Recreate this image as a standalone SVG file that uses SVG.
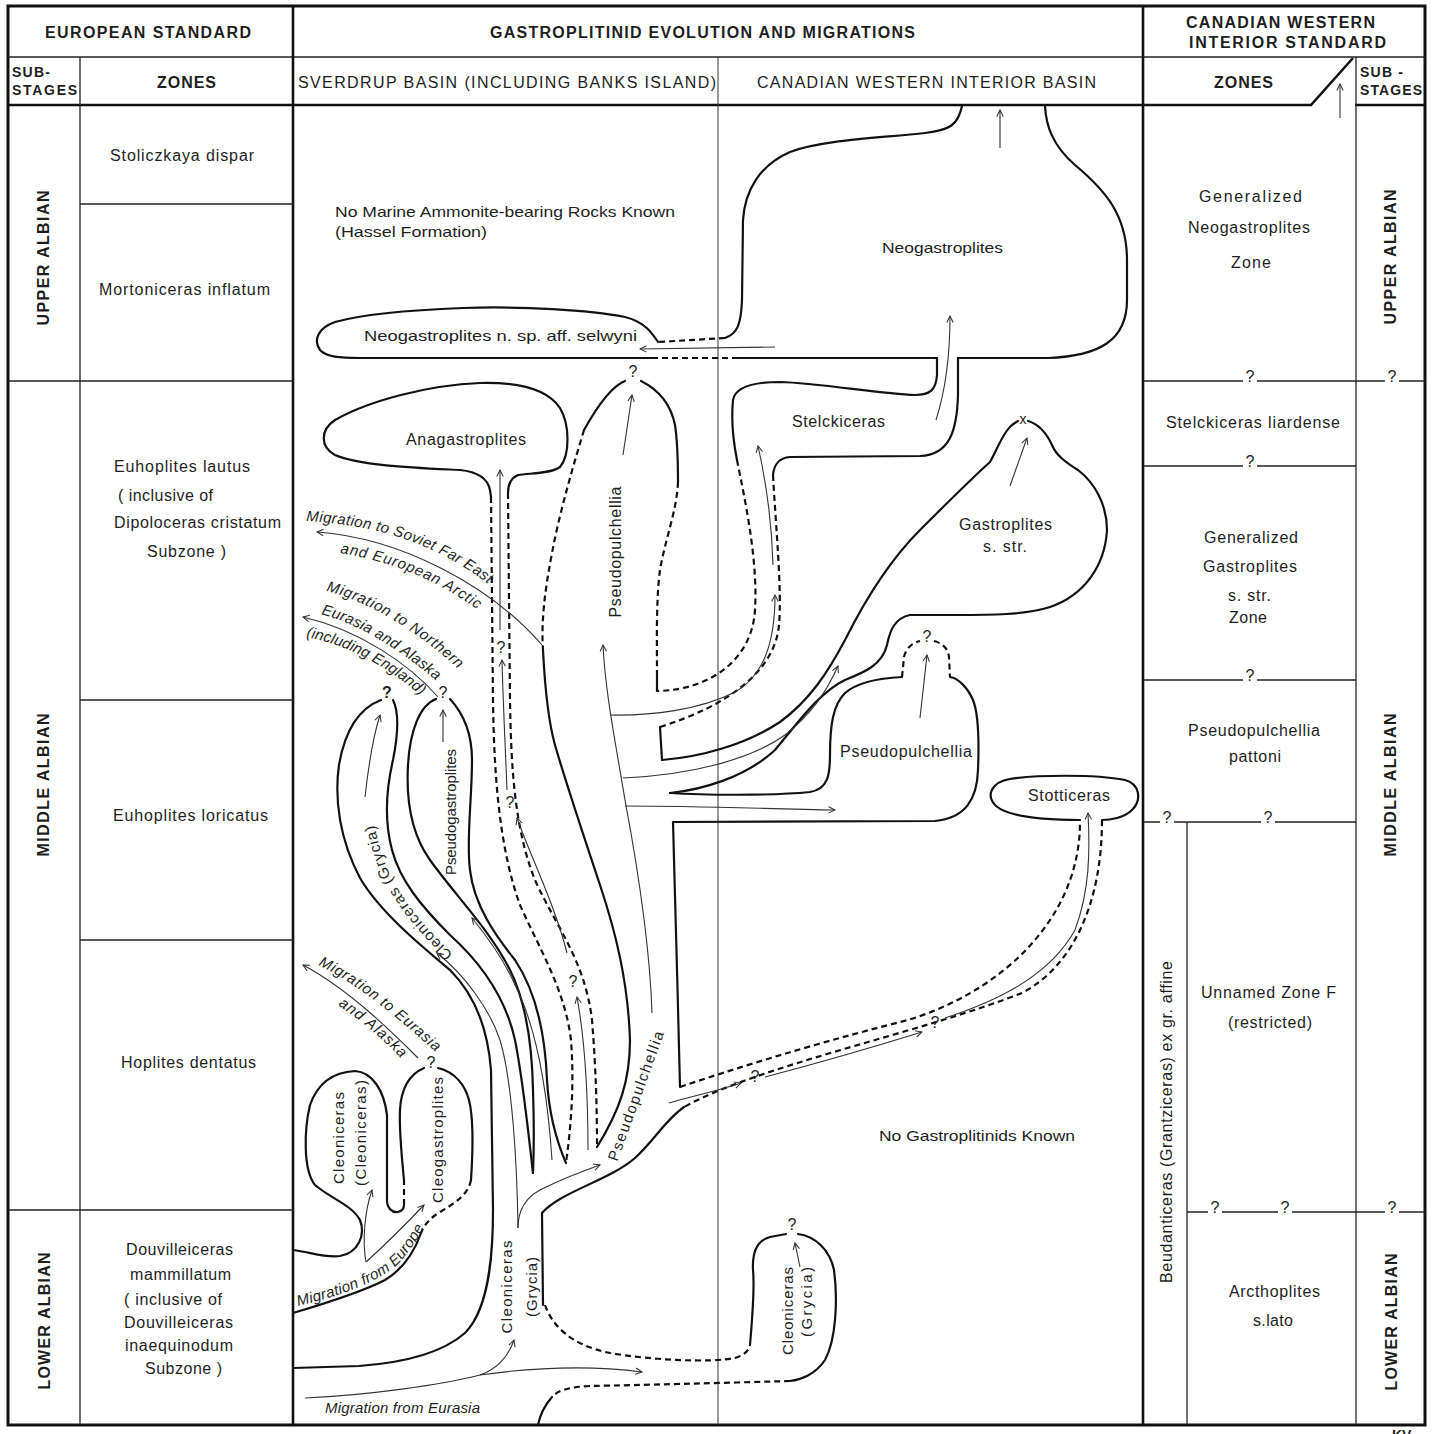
<svg xmlns="http://www.w3.org/2000/svg" width="1435" height="1434" viewBox="0 0 1435 1434">
<style>
.t{font-family:"Liberation Sans",Arial,Helvetica,sans-serif;font-size:16px;fill:#1e1e1e}
.b{font-weight:bold}
.i{font-style:italic;font-size:15px}
.m{text-anchor:middle}
.s14{font-size:14px}
.s15{font-size:15px}
.fr{fill:none;stroke:#111;stroke-width:3}
.g1{stroke:#222;stroke-width:1.3;fill:none}
.g2{stroke:#111;stroke-width:2.6;fill:none}
.g0{stroke:#333;stroke-width:1;fill:none}
.ol{fill:none;stroke:#111;stroke-width:2.2;stroke-linecap:round;stroke-linejoin:round}
.ds{fill:none;stroke:#111;stroke-width:2.2;stroke-dasharray:6 4}
.ar{fill:none;stroke:#333;stroke-width:1.1;marker-end:url(#ah)}
.tn{fill:none;stroke:#333;stroke-width:1.1}
</style>
<defs>
<marker id="ah" viewBox="0 0 10 10" refX="9" refY="5" markerWidth="8" markerHeight="8" markerUnits="userSpaceOnUse" orient="auto"><path d="M1,1 L9,5 L1,9" fill="none" stroke="#333" stroke-width="1.3"/></marker>
<path id="pM1a" d="M 306,521 C 380,525 440,545 496,590"/>
<path id="pM1b" d="M 340,553 C 400,563 440,583 480,611"/>
<path id="pM2a" d="M 326,591 C 370,602 420,632 466,676"/>
<path id="pM2b" d="M 321,614 C 365,626 410,656 451,694"/>
<path id="pM2c" d="M 306,637 C 350,645 395,670 432,706"/>
<path id="pM3a" d="M 318,965 C 360,985 400,1020 440,1056"/>
<path id="pM3b" d="M 338,1005 C 360,1020 385,1040 406,1064"/>
<path id="pM4" d="M 298,1306 C 340,1296 380,1282 400,1262 C 410,1250 418,1240 430,1216"/>
<path id="pCG" d="M 456,957 C 424,927 394,892 383,857 C 375,832 371,812 369,787"/>
</defs>
<rect x="0" y="0" width="1435" height="1434" fill="#fff"/>

<g id="grid">
<rect x="8" y="6" width="1417" height="1419" class="fr"/>
<line x1="8" y1="57" x2="1425" y2="57" class="g1" stroke-width="1.8"/>
<path d="M 8,105 L 1311,105 L 1353,58 M 1355,105 L 1425,105" class="g2"/>
<line x1="80" y1="57" x2="80" y2="1425" class="g1"/>
<line x1="293" y1="6" x2="293" y2="1425" class="g2"/>
<line x1="718" y1="57" x2="718" y2="1425" class="g0"/>
<line x1="1143" y1="6" x2="1143" y2="1425" class="g2"/>
<line x1="1356" y1="57" x2="1356" y2="1425" class="g1"/>
<line x1="1187" y1="822" x2="1187" y2="1425" class="g1"/>
<path d="M 80,204 H 293 M 8,381 H 293 M 80,700 H 293 M 80,940 H 293 M 8,1210 H 293" class="g1"/>
<path d="M 1143,381 H 1243 M 1257,381 H 1385 M 1399,381 H 1425 M 1143,466 H 1243 M 1257,466 H 1356 M 1143,680 H 1243 M 1257,680 H 1356 M 1143,822 H 1160 M 1174,822 H 1261 M 1275,822 H 1356 M 1187,1212 H 1208 M 1222,1212 H 1278 M 1292,1212 H 1385 M 1399,1212 H 1425" class="g1"/>
<g class="t m">
<text x="1250" y="382">?</text><text x="1392" y="382">?</text>
<text x="1250" y="467">?</text><text x="1250" y="681">?</text>
<text x="1167" y="823">?</text><text x="1268" y="823">?</text>
<text x="1215" y="1213">?</text><text x="1285" y="1213">?</text><text x="1392" y="1213">?</text>
</g>
</g>

<g id="headers">
<text class="t b" x="45" y="38" textLength="206">EUROPEAN STANDARD</text>
<text class="t b" x="490" y="38" textLength="425">GASTROPLITINID EVOLUTION AND MIGRATIONS</text>
<text class="t b" x="1186" y="28" textLength="189">CANADIAN WESTERN</text>
<text class="t b" x="1189" y="48" textLength="197">INTERIOR STANDARD</text>
<text class="t b s14" x="12" y="77" textLength="38">SUB-</text>
<text class="t b s14" x="12" y="95" textLength="65">STAGES</text>
<text class="t b" x="157" y="88" textLength="59">ZONES</text>
<text class="t" x="298" y="88" textLength="418">SVERDRUP BASIN  (INCLUDING BANKS ISLAND)</text>
<text class="t" x="757" y="88" textLength="339">CANADIAN WESTERN INTERIOR BASIN</text>
<text class="t b" x="1214" y="88" textLength="59">ZONES</text>
<text class="t b s14" x="1360" y="77" textLength="43">SUB -</text>
<text class="t b s14" x="1360" y="95" textLength="62">STAGES</text>
<text class="t b m" transform="translate(44,258) rotate(-90)" y="5" textLength="135">UPPER ALBIAN</text>
<text class="t b m" transform="translate(44,785) rotate(-90)" y="5" textLength="143">MIDDLE ALBIAN</text>
<text class="t b m" transform="translate(45,1321) rotate(-90)" y="5" textLength="137">LOWER ALBIAN</text>
<text class="t b m" transform="translate(1391,257) rotate(-90)" y="5" textLength="135">UPPER ALBIAN</text>
<text class="t b m" transform="translate(1391,785) rotate(-90)" y="5" textLength="143">MIDDLE ALBIAN</text>
<text class="t b m" transform="translate(1392,1322) rotate(-90)" y="5" textLength="137">LOWER ALBIAN</text>
<text class="t b s14" x="1392" y="1440">KV</text>
</g>

<g id="european-zones" class="t">
<text x="110" y="161" textLength="144">Stoliczkaya  dispar</text>
<text x="99" y="295" textLength="171">Mortoniceras  inflatum</text>
<text x="114" y="472" textLength="136">Euhoplites  lautus</text>
<text x="118" y="501" textLength="95">( inclusive of</text>
<text x="114" y="528" textLength="167">Dipoloceras cristatum</text>
<text x="147" y="557" textLength="79">Subzone )</text>
<text x="113" y="821" textLength="155">Euhoplites  loricatus</text>
<text x="121" y="1068" textLength="135">Hoplites dentatus</text>
<text x="126" y="1255" textLength="107">Douvilleiceras</text>
<text x="130" y="1280" textLength="101">mammillatum</text>
<text x="124" y="1305" textLength="98">( inclusive of</text>
<text x="124" y="1328" textLength="109">Douvilleiceras</text>
<text x="125" y="1351" textLength="108">inaequinodum</text>
<text x="145" y="1374" textLength="77">Subzone )</text>
</g>

<g id="canadian-zones" class="t">
<text x="1199" y="202" textLength="103">Generalized</text>
<text x="1188" y="233" textLength="122">Neogastroplites</text>
<text x="1231" y="268" textLength="40">Zone</text>
<text x="1166" y="428" textLength="174">Stelckiceras  liardense</text>
<text x="1204" y="543" textLength="94">Generalized</text>
<text x="1203" y="572" textLength="94">Gastroplites</text>
<text x="1228" y="601" textLength="43">s.  str.</text>
<text x="1229" y="623" textLength="38">Zone</text>
<text x="1188" y="736" textLength="132">Pseudopulchellia</text>
<text x="1229" y="762" textLength="52">pattoni</text>
<text x="1201" y="998" textLength="135">Unnamed Zone F</text>
<text x="1228" y="1028" textLength="84">(restricted)</text>
<text x="1229" y="1297" textLength="91">Arcthoplites</text>
<text x="1253" y="1326" textLength="40">s.lato</text>
<text class="m" transform="translate(1167,1122) rotate(-90)" y="5" textLength="322">Beudanticeras  (Grantziceras)  ex gr. affine</text>
</g>

<g id="note-hassel" class="t s15">
<text x="335" y="217" textLength="340" lengthAdjust="spacingAndGlyphs">No Marine Ammonite-bearing Rocks Known</text>
<text x="335" y="237" textLength="152" lengthAdjust="spacingAndGlyphs">(Hassel  Formation)</text>
<text x="879" y="1141" textLength="196" lengthAdjust="spacingAndGlyphs">No Gastroplitinids Known</text>
</g>

<g id="n-neogastroplites">
<path class="ol" d="M 1045,106 C 1046,125 1052,145 1075,165 C 1105,190 1127,215 1127,260 L 1127,300 C 1127,340 1100,356 1048,358 L 958,358"/>
<path class="ol" d="M 962,106 C 958,125 950,130 925,133 C 880,138 820,140 790,152 C 760,165 745,190 743,220 L 742,300 C 741,325 737,334 725,338"/>
<text class="t s15" x="882" y="253" textLength="121" lengthAdjust="spacingAndGlyphs">Neogastroplites</text>
</g>

<g id="n-neogastroplites-nsp">
<path class="ds" d="M 725,338 L 658,342"/>
<path class="ol" d="M 658,342 C 652,333 645,322 625,317 C 590,310 520,306 463,308 C 410,310 360,315 335,322 C 318,328 313,340 320,350 C 326,357 340,358 360,358 L 652,358"/>
<path class="ds" d="M 652,358 L 734,358"/>
<path class="ol" d="M 734,358 L 937,358"/>
<text class="t s15" x="364" y="341" textLength="273" lengthAdjust="spacingAndGlyphs">Neogastroplites  n. sp.  aff.  selwyni</text>
</g>

<g id="n-stelckiceras">
<path class="ol" d="M 937,358 L 937,375 C 936,390 930,395 915,395 C 880,394 820,383 780,382 C 750,382 735,388 733,400 C 731,420 733,440 737,460"/>
<path class="ds" d="M 737,460 C 745,500 758,560 755,610 C 752,660 710,690 657,691"/>
<path class="ol" d="M 958,358 L 958,395 C 957,430 950,455 920,456 L 790,457 C 778,458 774,465 773,475"/>
<path class="ds" d="M 773,475 C 776,530 782,590 779,625 C 775,670 730,705 660,727"/>
<path class="ol" d="M 660,727 L 662,760"/>
<text class="t" x="792" y="427" textLength="93">Stelckiceras</text>
</g>

<g id="n-gastroplites">
<path class="ol" d="M 662,760 C 700,757 745,745 780,722 C 810,700 828,672 845,640 C 865,600 890,560 920,530 C 950,500 970,480 990,462 C 997,450 1003,432 1012,425 L 1018,421"/>
<path class="ol" d="M 1028,421 C 1038,424 1046,432 1052,445 C 1056,455 1065,462 1078,470 C 1095,483 1107,505 1107,530 C 1105,565 1085,595 1050,607 C 1025,615 990,615 955,615 L 910,615 C 895,618 890,630 887,645 C 882,665 865,672 845,680 C 820,692 800,720 775,750 C 745,778 700,790 670,793"/>
<text class="t s14 m" x="1023" y="424">x</text>
<text class="t" x="959" y="530" textLength="93">Gastroplites</text>
<text class="t" x="983" y="552" textLength="44">s.  str.</text>
</g>

<g id="n-pseudopulchellia-lower">
<path class="ol" d="M 670,793 C 700,795 770,796 810,792 C 828,789 830,775 830,755 C 830,725 833,705 845,693 C 858,682 880,678 902,677"/>
<path class="ds" d="M 902,677 L 904,657 C 906,648 912,643 920,641 M 934,641 C 942,643 948,648 949,657 L 950,677"/>
<path class="ol" d="M 950,677 C 958,678 968,688 973,700 C 979,715 979,745 978,770 C 977,800 965,818 935,821 L 673,822 C 675,900 678,1000 680,1087"/>
<text class="t m" x="927" y="642">?</text>
<text class="t" x="840" y="757" textLength="132">Pseudopulchellia</text>
</g>

<g id="n-stotticeras">
<path class="ds" d="M 680,1087 C 760,1060 840,1037 908,1020 C 1000,992 1080,920 1080,822"/>
<path class="ol" d="M 1080,820 C 1050,820 1010,818 996,806 C 985,795 992,782 1010,779 C 1035,775 1095,774 1125,780 C 1140,784 1142,800 1132,810 C 1124,818 1110,820 1102,820"/>
<path class="ds" d="M 1102,820 C 1102,900 1075,965 1022,993 C 920,1033 760,1065 684,1107"/>
<text class="t" x="1028" y="801" textLength="82">Stotticeras</text>
<text class="t m" x="755" y="1082">?</text>
<text class="t m" x="935" y="1028">?</text>
</g>

<g id="n-pseudopulchellia-trunk">
<path class="ol" d="M 625,381 C 612,386 598,405 584,430"/>
<path class="ds" d="M 584,430 C 575,460 560,510 552,553 C 545,590 541,620 543,650"/>
<path class="ol" d="M 543,650 C 545,690 548,720 555,745 C 565,780 585,840 600,885 C 615,930 628,980 630,1040 C 630,1080 620,1110 597,1147"/>
<path class="ol" d="M 641,381 C 655,388 670,400 675,425 C 678,445 678,465 678,482"/>
<path class="ds" d="M 678,482 C 677,510 665,540 660,570 C 656,600 657,640 657,672"/>
<path class="ol" d="M 657,672 L 657,691"/>
<path class="ol" d="M 684,1107 C 665,1120 655,1140 635,1158 C 610,1180 560,1192 542,1213 L 543,1305"/>
<text class="t m" x="633" y="377">?</text>
<text class="t m" transform="translate(616,552) rotate(-90)" y="5" textLength="131">Pseudopulchellia</text>
<text class="t s15 m" transform="translate(636,1096) rotate(-70)" y="5" textLength="137">Pseudopulchellia</text>
</g>

<g id="n-anagastroplites">
<path class="ol" d="M 491,497 L 490,490 C 488,480 480,472 460,470 C 420,468 360,466 335,455 C 320,447 320,430 335,420 C 370,400 430,385 480,383 C 520,382 548,390 560,408 C 570,425 570,455 560,467 C 550,474 530,473 518,475 C 511,478 508,485 508,493"/>
<path class="ds" d="M 491,497 L 493,700 C 494,780 500,850 520,905 C 540,950 565,990 571,1040 C 574,1080 572,1120 566,1163"/>
<path class="ds" d="M 508,493 L 510,700 C 511,770 515,830 535,880 C 555,925 585,960 592,1020 C 596,1070 597,1110 597,1147"/>
<text class="t" x="406" y="445" textLength="120">Anagastroplites</text>
<text class="t m" x="501" y="653">?</text>
<text class="t m" x="510" y="808">?</text>
<text class="t m" x="573" y="987">?</text>
</g>

<g id="n-pseudogastroplites">
<path class="ol" d="M 436,699 C 420,705 410,730 408,765 C 406,800 412,835 430,860 C 455,895 490,930 510,970 C 525,1000 532,1040 533,1090 C 534,1120 534,1150 533,1173"/>
<path class="ol" d="M 450,699 C 462,712 472,730 472,760 C 472,800 466,840 470,870 C 474,905 495,935 515,960 C 535,990 545,1030 547,1080 C 549,1115 556,1140 566,1163"/>
<text class="t m" x="443" y="698">?</text>
<text class="t s15 m" transform="translate(451,812) rotate(-90)" y="5" textLength="126">Pseudogastroplites</text>
</g>

<g id="n-cleoniceras-grycia">
<path class="ol" d="M 381,700 C 360,708 345,730 339,765 C 334,800 340,840 360,878 C 380,912 420,945 450,970 C 475,995 488,1030 491,1070 L 493,1210 C 493,1260 488,1310 465,1333 C 440,1355 400,1363 359,1366 L 293,1368"/>
<path class="ol" d="M 393,700 C 399,712 398,735 393,760 C 386,790 384,820 392,850 C 400,880 420,905 450,935 C 480,962 505,995 515,1040 C 523,1080 528,1130 533,1173"/>
<text class="t b m" x="387" y="698">?</text>
<text class="t s15"><textPath href="#pCG" startOffset="4" letter-spacing="0.9">Cleoniceras  (Grycia)</textPath></text>
<text class="t s15 m" transform="translate(507,1287) rotate(-90)" y="5" textLength="93">Cleoniceras</text>
<text class="t s15 m" transform="translate(532,1287) rotate(-90)" y="5" textLength="60">(Grycia)</text>
</g>

<g id="n-cleoniceras-grycia-lower">
<path class="ds" d="M 545,1305 C 552,1325 570,1345 610,1353 C 650,1360 710,1363 735,1358 C 745,1355 749,1350 750,1345"/>
<path class="ol" d="M 750,1345 C 752,1320 755,1290 753,1270 C 752,1250 758,1240 770,1237 L 786,1234 M 798,1234 C 815,1236 830,1250 834,1270 C 838,1300 836,1340 825,1360 C 815,1375 800,1380 790,1381"/>
<path class="ds" d="M 790,1381 C 720,1383 640,1385 590,1386 C 570,1387 558,1390 552,1397"/>
<path class="ol" d="M 552,1397 C 545,1405 540,1415 538,1425"/>
<text class="t m" x="792" y="1230">?</text>
<text class="t s15 m" transform="translate(788,1311) rotate(-90)" y="5" textLength="88">Cleoniceras</text>
<text class="t s15 m" transform="translate(807,1302) rotate(-90)" y="5" textLength="70">(Grycia)</text>
</g>

<g id="n-cleoniceras-cleoniceras">
<path class="ol" d="M 293,1250 C 310,1252 325,1258 340,1256 C 358,1253 366,1235 360,1220 C 352,1205 330,1198 315,1185 C 303,1170 304,1130 310,1105 C 318,1082 335,1072 355,1071 C 372,1072 384,1090 387,1115 L 387,1200 C 387,1208 392,1213 398,1212 C 402,1211 404,1208 404,1205"/>
<text class="t s15 m" transform="translate(339,1138) rotate(-90)" y="5" textLength="92">Cleoniceras</text>
<text class="t s15 m" transform="translate(361,1133) rotate(-90)" y="5" textLength="106">(Cleoniceras)</text>
</g>

<g id="n-cleogastroplites">
<path class="ds" d="M 404,1205 L 404,1180"/>
<path class="ol" d="M 404,1180 C 402,1160 399,1130 400,1110 C 401,1090 408,1075 424,1068 M 438,1068 C 455,1072 465,1085 469,1100 C 474,1120 473,1150 471,1180"/>
<path class="ds" d="M 471,1180 C 468,1195 455,1203 440,1212 C 430,1218 424,1225 421,1233"/>
<path class="ol" d="M 421,1233 C 415,1250 405,1268 385,1280 C 360,1293 320,1305 293,1313"/>
<text class="t m" x="431" y="1068">?</text>
<text class="t s15 m" transform="translate(438,1140) rotate(-90)" y="5" textLength="126">Cleogastroplites</text>
</g>

<g id="connectors">
<path class="ar" d="M 1000,148 L 1000,110"/>
<path class="ar" d="M 1340,118 L 1340,84"/>
<path class="ar" d="M 775,347 L 640,349"/>
<path class="ar" d="M 936,420 C 944,395 950,360 950,316"/>
<path class="ar" d="M 610,715 C 650,716 700,710 735,692 C 765,675 775,640 775,595"/>
<path class="ar" d="M 773,565 C 772,530 768,490 758,446"/>
<path class="ar" d="M 623,778 C 690,775 750,760 785,735 C 810,715 825,695 838,666"/>
<path class="ar" d="M 625,806 C 700,806 770,809 835,810"/>
<path class="ar" d="M 1010,486 L 1027,438"/>
<path class="ar" d="M 920,718 L 927,655"/>
<path class="ar" d="M 623,455 L 632,395"/>
<path class="ar" d="M 652,1013 C 650,950 640,880 625,800 C 615,740 605,690 603,645"/>
<path class="ar" d="M 669,1103 C 690,1097 720,1090 741,1083"/>
<path class="ar" d="M 765,1077 C 830,1060 880,1045 922,1032"/>
<path class="ar" d="M 945,1018 C 1000,1000 1050,975 1075,930 C 1090,890 1090,850 1088,813"/>
<path class="ar" d="M 500,630 L 500,470"/>
<path class="ar" d="M 507,790 C 505,740 503,700 502,660"/>
<path class="ar" d="M 567,953 C 555,905 530,855 517,818"/>
<path class="ar" d="M 588,1150 C 588,1080 583,1030 577,997"/>
<path class="ar" d="M 443,742 L 443,710"/>
<path class="ar" d="M 552,1160 C 548,1100 538,1030 515,985 C 505,962 490,940 472,918"/>
<path class="ar" d="M 365,797 C 368,770 372,740 380,715"/>
<path class="ar" d="M 518,1228 C 517,1160 512,1080 500,1040 C 490,1010 465,975 437,953"/>
<path class="ar" d="M 518,1228 C 518,1210 525,1198 540,1190 C 560,1180 580,1172 600,1165"/>
<path class="tn" d="M 305,1398 C 370,1395 440,1385 480,1375"/>
<path class="ar" d="M 480,1375 C 495,1370 508,1358 514,1340"/>
<path class="ar" d="M 480,1375 C 530,1368 590,1365 642,1372"/>
<path class="ar" d="M 366,1262 C 362,1240 365,1210 372,1190"/>
<path class="ar" d="M 366,1262 C 385,1245 405,1225 424,1205"/>
<path class="ar" d="M 800,1267 L 795,1243"/>
<path class="ar" d="M 542,645 C 490,585 400,538 317,532"/>
<path class="ar" d="M 438,697 C 410,665 360,630 303,617"/>
<path class="ar" d="M 418,1058 C 395,1035 350,990 303,965"/>
</g>

<g id="migration-labels" class="t i">
<text letter-spacing="0.4"><textPath href="#pM1a">Migration to Soviet Far East</textPath></text>
<text letter-spacing="0.8"><textPath href="#pM1b">and  European  Arctic</textPath></text>
<text letter-spacing="0.7"><textPath href="#pM2a">Migration to Northern</textPath></text>
<text letter-spacing="0.3"><textPath href="#pM2b">Eurasia and Alaska</textPath></text>
<text letter-spacing="0.1"><textPath href="#pM2c">(including England)</textPath></text>
<text letter-spacing="0.7"><textPath href="#pM3a">Migration to Eurasia</textPath></text>
<text letter-spacing="1"><textPath href="#pM3b">and Alaska</textPath></text>
<text letter-spacing="0.3"><textPath href="#pM4">Migration  from  Europe</textPath></text>
<text x="325" y="1413" textLength="155">Migration from Eurasia</text>
</g>
</svg>
